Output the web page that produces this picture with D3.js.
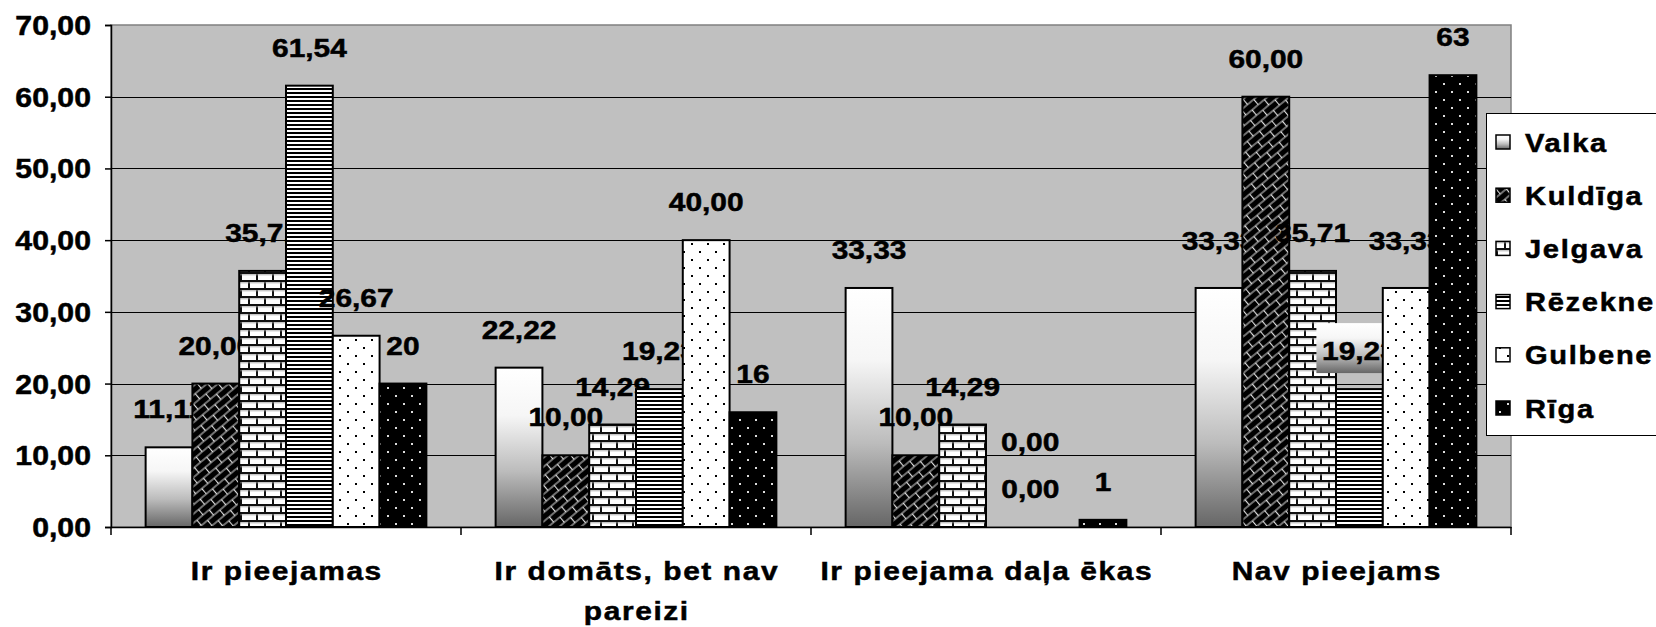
<!DOCTYPE html>
<html>
<head>
<meta charset="utf-8">
<script src="https://cdn.jsdelivr.net/npm/d3@7"></script>
<style>
  body { margin: 0; background: #fff; }
  svg text { font-family: "Liberation Sans", Arial, sans-serif; font-weight: bold; fill: #000; stroke: #000; stroke-width: 0.5px; }
</style>
</head>
<body>
<div id="chart"></div>
<script>
var categories = ["Ir pieejamas", "Ir domāts, bet nav pareizi", "Ir pieejama daļa ēkas", "Nav pieejams"];
var categoryLines = [["Ir pieejamas"], ["Ir domāts, bet nav", "pareizi"], ["Ir pieejama daļa ēkas"], ["Nav pieejams"]];
var series = ["Valka", "Kuldīga", "Jelgava", "Rēzekne", "Gulbene", "Rīga"];
var valka   = [11.11, 22.22, 33.33, 33.33];
var kuldiga = [20.00, 10.00, 10.00, 60.00];
var jelgava = [35.71, 14.29, 14.29, 35.71];
var rezekne = [61.54, 19.23, 0.00, 19.23];
var gulbene = [26.67, 40.00, 0.00, 33.33];
var riga    = [20, 16, 1, 63];
var seriesValues = [valka, kuldiga, jelgava, rezekne, gulbene, riga];
var labelDecimals = [2, 2, 2, 2, 2, 0];
var yTicks = [0, 10, 20, 30, 40, 50, 60, 70];

// manual label nudges (series index + "|" + category index)
var labelNudge = {
  "3|2": [21, 0],
  "4|2": [-26, -47],
  "0|3": [0, -9],
  "4|3": [0, -9]
};
var boxedLabels = {"3|3": true};

var W = 1656, H = 627;
var plot = {left: 111, right: 1511, top: 25, bottom: 527};

var svg = d3.select("#chart").append("svg")
  .attr("width", W)
  .attr("height", H);

var defs = svg.append("defs");

// Valka gradient
var grad = defs.append("linearGradient")
  .attr("id", "p0")
  .attr("x1", 0).attr("y1", 0).attr("x2", 0).attr("y2", 1);
grad.append("stop").attr("offset", 0).attr("stop-color", "#ffffff");
grad.append("stop").attr("offset", 0.3).attr("stop-color", "#f6f6f6");
grad.append("stop").attr("offset", 0.65).attr("stop-color", "#bcbcbc");
grad.append("stop").attr("offset", 1).attr("stop-color", "#666666");

// Kuldīga diagonal brick
var p1 = defs.append("pattern")
  .attr("id", "p1")
  .attr("patternUnits", "userSpaceOnUse")
  .attr("width", 16).attr("height", 14)
  .attr("patternTransform", "rotate(-40)");
p1.append("rect").attr("width", 16).attr("height", 14).attr("fill", "#000");
p1.append("path")
  .attr("d", "M0,0H16M0,7H16M0,14H16M0.5,0V7M8.5,7V14")
  .attr("stroke", "#e0e0e0").attr("stroke-width", 1.2).attr("fill", "none");

// Jelgava horizontal brick
var p2 = defs.append("pattern")
  .attr("id", "p2")
  .attr("patternUnits", "userSpaceOnUse")
  .attr("width", 16).attr("height", 16);
p2.append("rect").attr("width", 16).attr("height", 16).attr("fill", "#fff");
p2.append("path")
  .attr("d", "M0,1H16M0,9H16M1,1V9M9,9V17")
  .attr("stroke", "#111").attr("stroke-width", 2).attr("fill", "none");
p2.append("path")
  .attr("d", "M0,2.8H16M0,10.8H16")
  .attr("stroke", "#999").attr("stroke-width", 0.8).attr("fill", "none");

// Rēzekne horizontal lines
var p3 = defs.append("pattern")
  .attr("id", "p3")
  .attr("patternUnits", "userSpaceOnUse")
  .attr("width", 8).attr("height", 4);
p3.append("rect").attr("width", 8).attr("height", 4).attr("fill", "#fff");
p3.append("rect").attr("width", 8).attr("height", 2).attr("fill", "#000");

// Gulbene dots
var p4 = defs.append("pattern")
  .attr("id", "p4")
  .attr("patternUnits", "userSpaceOnUse")
  .attr("width", 16).attr("height", 16);
p4.append("rect").attr("width", 16).attr("height", 16).attr("fill", "#fff");
p4.append("rect").attr("x", 3).attr("y", 3).attr("width", 2).attr("height", 2).attr("fill", "#000");
p4.append("rect").attr("x", 11).attr("y", 11).attr("width", 2).attr("height", 2).attr("fill", "#000");

// Rīga dots
var p5 = defs.append("pattern")
  .attr("id", "p5")
  .attr("patternUnits", "userSpaceOnUse")
  .attr("width", 16).attr("height", 16);
p5.append("rect").attr("width", 16).attr("height", 16).attr("fill", "#000");
p5.append("rect").attr("x", 3).attr("y", 3).attr("width", 2).attr("height", 2).attr("fill", "#ddd");
p5.append("rect").attr("x", 11).attr("y", 11).attr("width", 2).attr("height", 2).attr("fill", "#ddd");

var fills = ["url(#p0)", "url(#p1)", "url(#p2)", "url(#p3)", "url(#p4)", "url(#p5)"];

var x0 = d3.scaleBand()
  .domain(categories)
  .range([plot.left, plot.right])
  .padding(0);

var x1 = d3.scaleBand()
  .domain(series)
  .range([0, x0.bandwidth()])
  .paddingInner(0)
  .paddingOuter(0.74);

var y = d3.scaleLinear()
  .domain([0, 70])
  .range([plot.bottom, plot.top]);

function fmt(v, d) {
  return d3.format("." + d + "f")(v).replace(".", ",");
}

// wide bold text, like the old Excel rendering
function label(parent, x, yy, str, size, anchor, sx, ls) {
  var t = parent.append("text")
    .attr("transform", "translate(" + x + "," + yy + ") scale(" + sx + ",1)")
    .attr("text-anchor", anchor)
    .style("font-size", size + "px")
    .text(str);
  if (ls) {
    t.style("letter-spacing", ls + "px");
    if (anchor == "middle") t.attr("x", ls / 2);
    if (anchor == "end") t.attr("x", ls);
  }
  return t;
}

// plot area
svg.append("rect")
  .attr("x", plot.left).attr("y", plot.top)
  .attr("width", plot.right - plot.left)
  .attr("height", plot.bottom - plot.top)
  .attr("fill", "#c0c0c0")
  .attr("stroke", "#808080")
  .attr("stroke-width", 1.5);

// gridlines
svg.append("g")
  .selectAll("line")
  .data(yTicks.filter(function(d) { return d > 0 && d < 70; }))
  .enter().append("line")
  .attr("x1", plot.left).attr("x2", plot.right)
  .attr("y1", function(d) { return Math.round(y(d)) + 0.5; })
  .attr("y2", function(d) { return Math.round(y(d)) + 0.5; })
  .attr("stroke", "#000")
  .attr("stroke-width", 1);

// y axis
var yAxis = d3.axisLeft(y)
  .tickValues(yTicks)
  .tickSize(6)
  .tickFormat("");

var gy = svg.append("g")
  .attr("transform", "translate(" + plot.left + ",0)")
  .call(yAxis);
gy.select(".domain").attr("stroke", "#000").attr("stroke-width", 1.5);
gy.selectAll(".tick line").attr("stroke", "#000").attr("stroke-width", 1.5);

yTicks.forEach(function(t) {
  label(svg, 91, y(t) + 10, fmt(t, 2), 27, "end", 1.12, 0);
});

// x axis
var xAxis = d3.axisBottom(x0).tickSize(0).tickFormat("");
var gx = svg.append("g")
  .attr("transform", "translate(0," + plot.bottom + ")")
  .call(xAxis);
gx.select(".domain").attr("stroke", "#000").attr("stroke-width", 1.5);
gx.selectAll(".tick").remove();

var bounds = categories.map(function(c) { return x0(c); }).concat([plot.right]);
gx.selectAll("line.sep")
  .data(bounds)
  .enter().append("line")
  .attr("class", "sep")
  .attr("x1", function(d) { return d; }).attr("x2", function(d) { return d; })
  .attr("y1", 0).attr("y2", 8)
  .attr("stroke", "#000").attr("stroke-width", 1.5);

// category labels
categoryLines.forEach(function(lines, ci) {
  var cx = x0(categories[ci]) + x0.bandwidth() / 2;
  lines.forEach(function(line, li) {
    label(svg, cx, 580 + li * 40, line, 26, "middle", 1.15, 1.4);
  });
});

// bars + labels, series by series
series.forEach(function(s, si) {
  var g = svg.append("g").attr("class", "series");
  var vals = seriesValues[si];

  g.selectAll("rect")
    .data(vals)
    .enter().append("rect")
    .attr("x", function(d, ci) { return x0(categories[ci]) + x1(s); })
    .attr("y", function(d) { return y(d); })
    .attr("width", x1.bandwidth())
    .attr("height", function(d) { return plot.bottom - y(d); })
    .attr("fill", fills[si])
    .attr("stroke", "#000")
    .attr("stroke-width", 2)
    .style("display", function(d) { return d > 0 ? null : "none"; });

  vals.forEach(function(v, ci) {
    var key = si + "|" + ci;
    var nudge = labelNudge[key] || [0, 0];
    var cx = x0(categories[ci]) + x1(s) + x1.bandwidth() / 2 + nudge[0];
    var by = y(v) - 29 + nudge[1];
    if (boxedLabels[key]) {
      g.append("rect")
        .attr("x", cx - 43).attr("y", by - 37)
        .attr("width", 86).attr("height", 50)
        .attr("fill", "url(#p0)");
    }
    label(g, cx, by, fmt(v, labelDecimals[si]), 26, "middle", 1.15, 0);
  });
});

// legend
var legend = svg.append("g").attr("class", "legend");
legend.append("rect")
  .attr("x", 1486.5).attr("y", 113.5)
  .attr("width", 200).attr("height", 322)
  .attr("fill", "#fff")
  .attr("stroke", "#000")
  .attr("stroke-width", 1);

series.forEach(function(s, i) {
  var cy = 142 + i * 53.2;
  legend.append("rect")
    .attr("x", 1496).attr("y", cy - 7)
    .attr("width", 14).attr("height", 14)
    .attr("fill", fills[i])
    .attr("stroke", "#000")
    .attr("stroke-width", 1.5);
  label(legend, 1525, cy + 9.5, s, 26, "start", 1.12, 1.5);
});
</script>
</body>
</html>
